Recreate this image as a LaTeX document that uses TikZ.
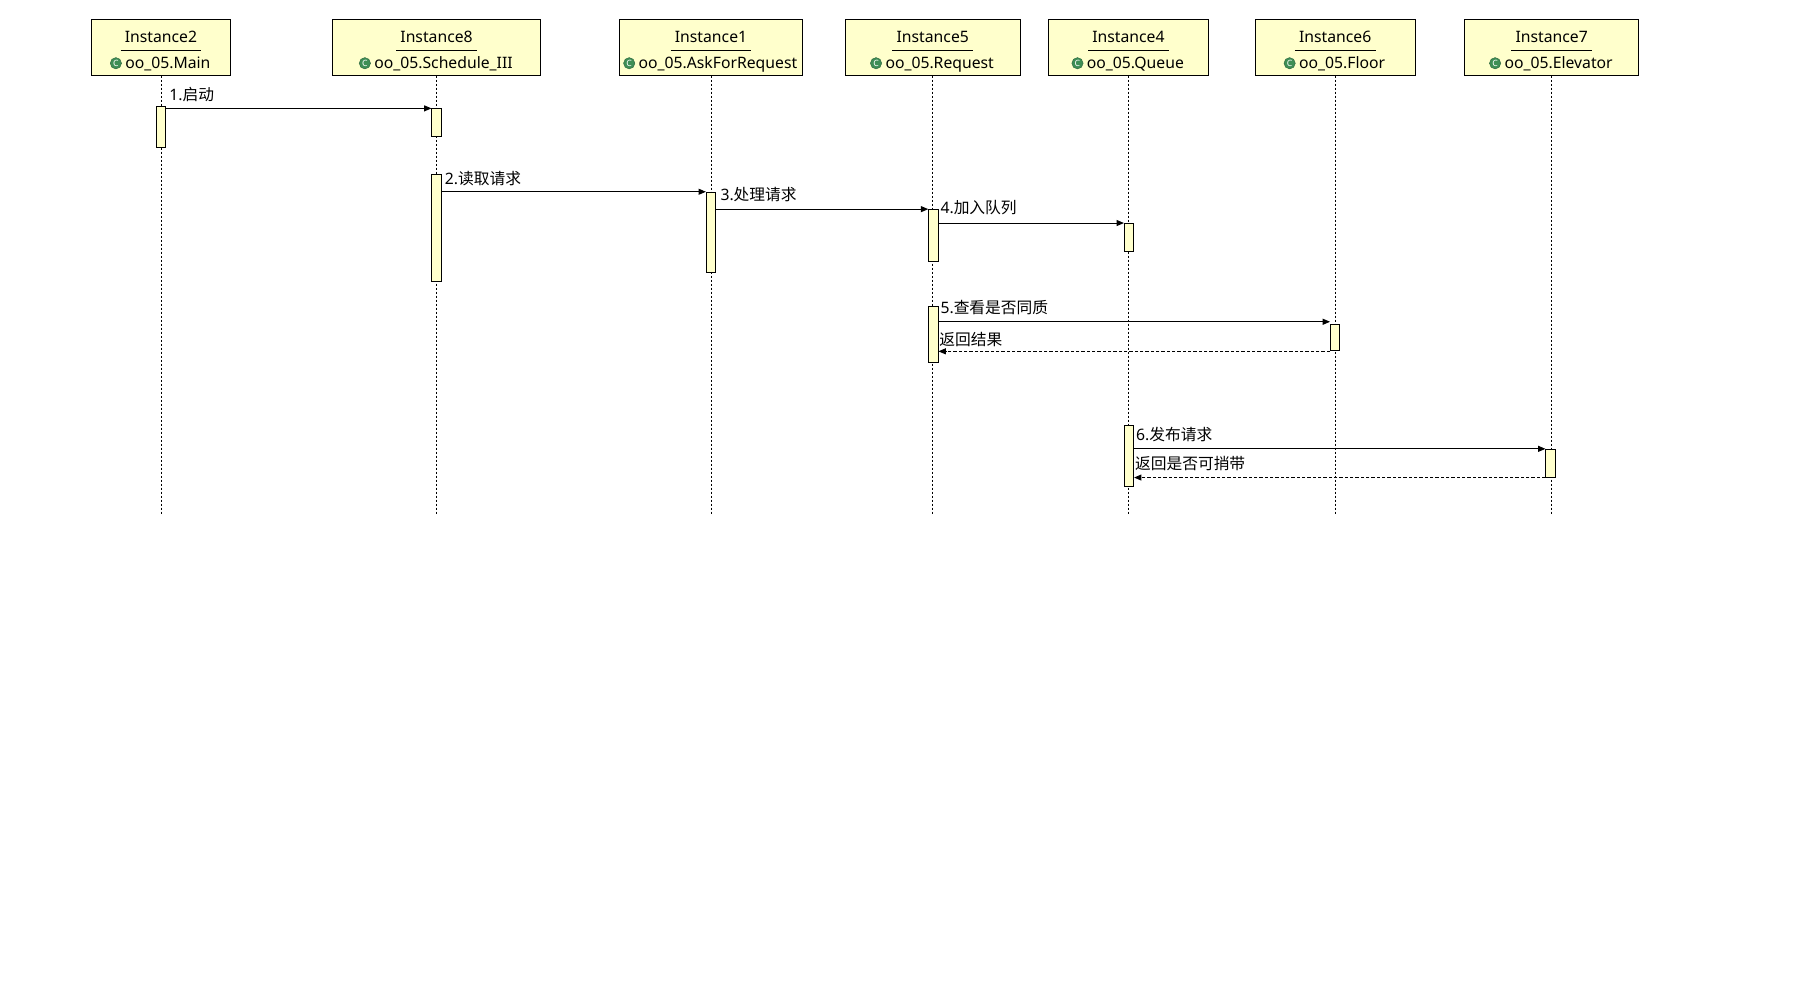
\documentclass[tikz,border=0pt]{standalone}
\usepackage{fontspec}
\setmainfont{Noto Sans}
\newfontfamily\cjk{Noto Sans CJK SC}
\usetikzlibrary{arrows.meta,fit}
\definecolor{boxfill}{HTML}{FFFFCC}
\definecolor{icongreen}{HTML}{3E8E55}
\begin{document}
\begin{tikzpicture}[x=0.8685pt,y=-0.8685pt,
  font=\fontsize{11.8}{13.5}\selectfont,
  head/.style={draw, fill=boxfill, line width=0.7pt, inner sep=0pt},
  act/.style={draw, fill=boxfill, line width=0.7pt, inner sep=0pt},
  iname/.style={inner sep=0pt, text height=8pt, text depth=2pt},
  cname/.style={inner sep=0pt, text height=8pt, text depth=2pt},
  icon/.style={circle, fill=icongreen, draw=icongreen!70!black, line width=0.3pt, inner sep=0pt, minimum size=8.5pt, text=white, font=\fontsize{6.5}{6.5}\selectfont\bfseries},
  uline/.style={line width=0.6pt},
  lifeline/.style={line width=0.6pt, dash pattern=on 1.5pt off 1.5pt},
  msg/.style={line width=0.7pt, -{Triangle[length=5.5pt,width=4.5pt]}},
  ret/.style={msg, dash pattern=on 2.5pt off 1.5pt},
  lbl/.style={inner sep=0pt, anchor=west, text height=8pt, text depth=2pt},
]
\useasboundingbox[fill=white] (0,0) rectangle (1567.4,866.1);
\coordinate (bot) at (0,445);

% heads
\node[head, fit={(79,17) (199,65)}] (h2) {};
\node[head, fit={(287,17) (467,65)}] (h8) {};
\node[head, fit={(535,17) (693,65)}] (h1) {};
\node[head, fit={(730,17) (881,65)}] (h5) {};
\node[head, fit={(905,17) (1044,65)}] (h4) {};
\node[head, fit={(1084,17) (1222,65)}] (h6) {};
\node[head, fit={(1265,17) (1415,65)}] (h7) {};

% instance names and class names
\foreach \h/\cx/\iname/\cname in {
  h2/139/Instance2/{oo\_05.Main},
  h8/377/Instance8/{oo\_05.Schedule\_III},
  h1/614/Instance1/{oo\_05.AskForRequest},
  h5/805.5/Instance5/{oo\_05.Request},
  h4/974.5/Instance4/{oo\_05.Queue},
  h6/1153/Instance6/{oo\_05.Floor},
  h7/1340/Instance7/{oo\_05.Elevator}}{
  \node[iname] (n\h) at (\cx,33) {\iname};
  \draw[uline] ([xshift=-3pt,yshift=-4.2pt]n\h.south west) -- ([xshift=3pt,yshift=-4.2pt]n\h.south east);
  \node[cname] (c\h) at (\cx+6,56) {\cname};
  \node[icon, left=2.5pt] (i\h) at ([yshift=1.2pt]c\h.west) {C};
}

% lifelines
\foreach \h in {h2,h8,h1,h5,h4,h6,h7}{
  \draw[lifeline] (\h.south) -- (\h.south |- bot);
}

% activations
\node[act, fit={(135,92) (143,127)}] (a2) {};
\node[act, fit={(373,94) (381,118)}] (a8a) {};
\node[act, fit={(373,151) (381,243)}] (a8b) {};
\node[act, fit={(610,166) (618,235)}] (a1) {};
\node[act, fit={(802,181) (810,226)}] (a5a) {};
\node[act, fit={(971,193) (979,217)}] (a4a) {};
\node[act, fit={(802,265) (810,313)}] (a5b) {};
\node[act, fit={(1149,280) (1157,303)}] (a6) {};
\node[act, fit={(971,367) (979,420)}] (a4b) {};
\node[act, fit={(1335,388) (1343,412)}] (a7) {};

% messages
\draw[msg] (a2.east |- a8a.north west) -- (a8a.north west);
\draw[msg] (a8b.east |- a1.north west) -- (a1.north west);
\draw[msg] (a1.east |- a5a.north west) -- (a5a.north west);
\draw[msg] (a5a.east |- a4a.north west) -- (a4a.north west);
\draw[msg] ([yshift=1.5pt]a5b.east |- a6.north west) -- ([yshift=1.5pt]a6.north west);
\draw[ret] (a6.south west) -- (a5b.east |- a6.south west);
\draw[msg] (a4b.east |- a7.north west) -- (a7.north west);
\draw[ret] (a7.south west) -- (a4b.east |- a7.south west);

% labels
\node[lbl] (l1) at (146,83) {1.{\cjk 启动}};
\node[lbl] (l2) at (384,156) {2.{\cjk 读取请求}};
\node[lbl] (l3) at (622,170) {3.{\cjk 处理请求}};
\node[lbl] (l4) at (812,181) {4.{\cjk 加入队列}};
\node[lbl] (l5) at (812,267) {5.{\cjk 查看是否同质}};
\node[lbl] (r5) at (811,295) {{\cjk 返回结果}};
\node[lbl] (l6) at (981,377) {6.{\cjk 发布请求}};
\node[lbl] (r6) at (980,402) {{\cjk 返回是否可捎带}};
\end{tikzpicture}
\end{document}
